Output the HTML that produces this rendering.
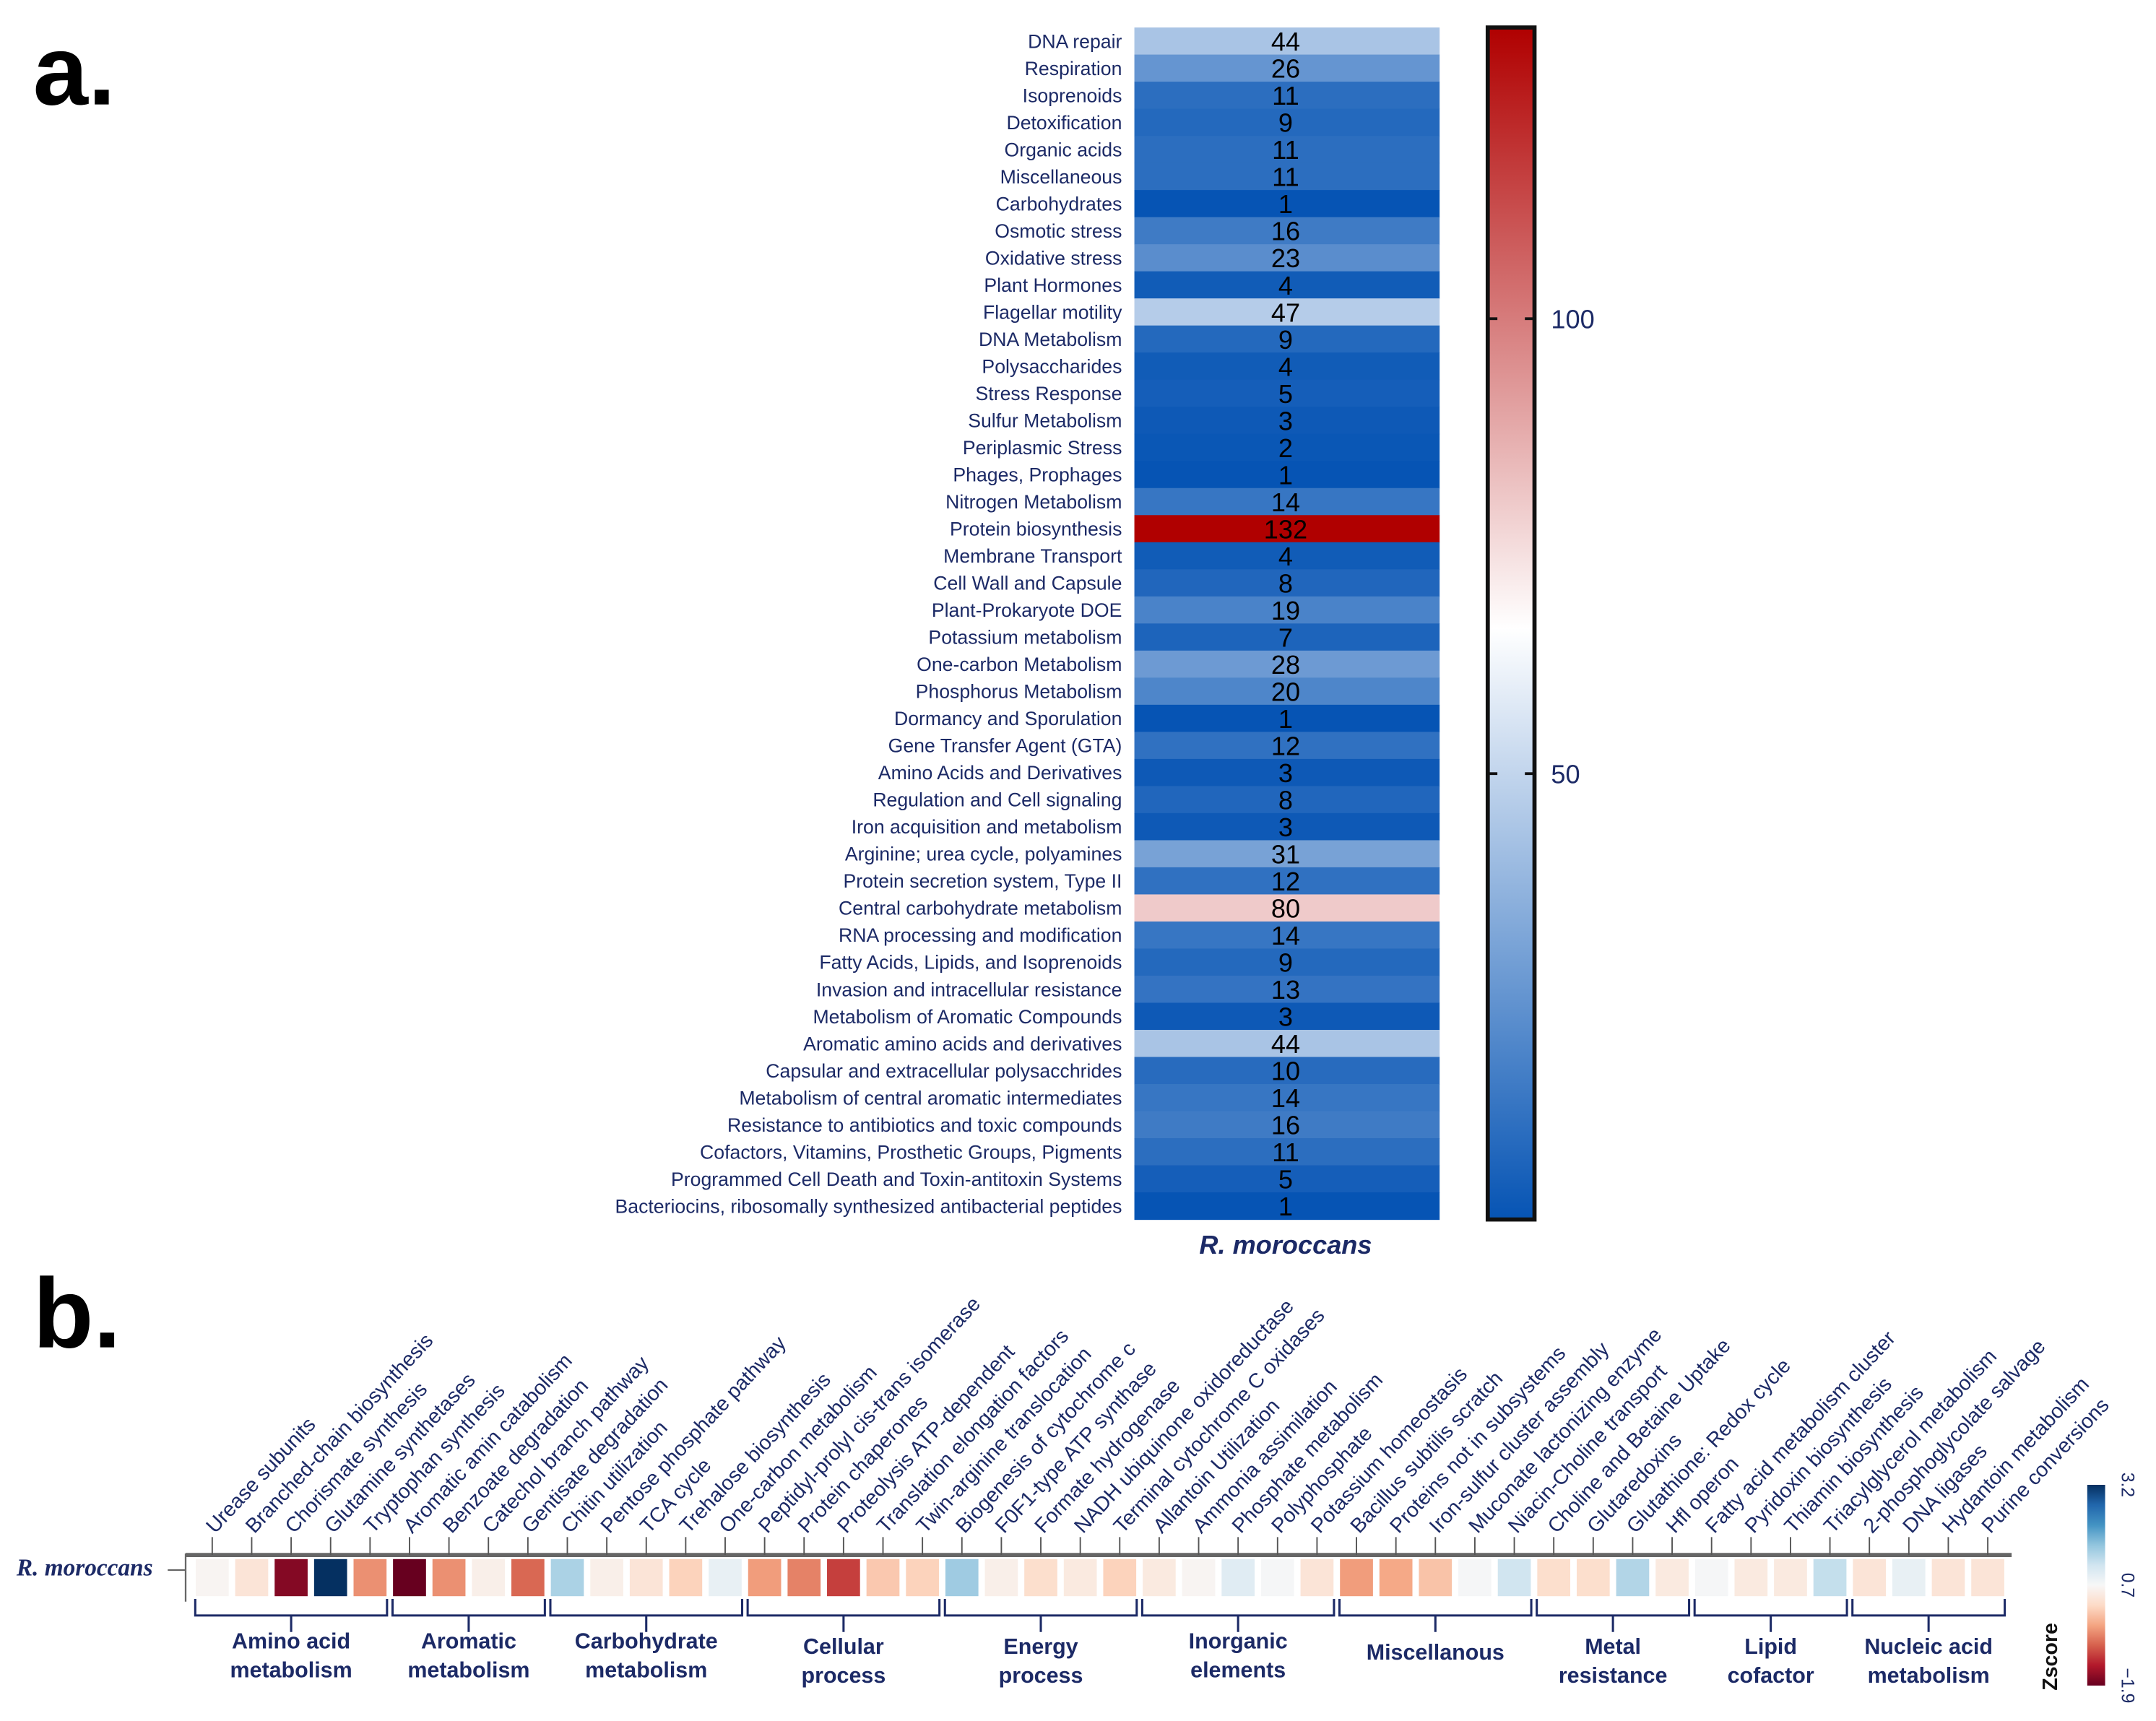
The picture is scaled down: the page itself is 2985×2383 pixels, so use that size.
<!DOCTYPE html>
<html><head><meta charset="utf-8">
<style>
html,body{margin:0;padding:0;background:#fff;width:2985px;height:2374px;overflow:hidden;}
#stage{position:absolute;left:0;top:0;width:1568px;height:1247px;transform-origin:0 0;transform:scale(1.9037);}
svg text{font-family:"Liberation Sans",sans-serif;}
</style></head>
<body>
<div id="stage">
<svg id="fig" width="1568" height="1247" xmlns="http://www.w3.org/2000/svg">
<defs>
<linearGradient id="gA" x1="0" y1="1" x2="0" y2="0">
<stop offset="0" stop-color="#0654b4"/><stop offset="0.496" stop-color="#ffffff"/><stop offset="1" stop-color="#b00000"/>
</linearGradient>
<linearGradient id="gB" x1="0" y1="1" x2="0" y2="0">
<stop offset="0" stop-color="#67001f"/><stop offset="0.1" stop-color="#b2182b"/><stop offset="0.2" stop-color="#d6604d"/><stop offset="0.3" stop-color="#f4a582"/><stop offset="0.4" stop-color="#fddbc7"/><stop offset="0.5" stop-color="#f7f7f7"/><stop offset="0.6" stop-color="#d1e5f0"/><stop offset="0.7" stop-color="#92c5de"/><stop offset="0.8" stop-color="#4393c3"/><stop offset="0.9" stop-color="#2166ac"/><stop offset="1" stop-color="#053061"/>
</linearGradient>
</defs>
<text x="24" y="76" font-size="72" font-weight="bold" fill="#000">a.</text>
<text x="24" y="980" font-size="72" font-weight="bold" fill="#000">b.</text>
<g id="pa"></g>
<g id="pb"></g>
</svg>
</div>
<script>
const catsA = ["DNA repair","Respiration","Isoprenoids","Detoxification","Organic acids","Miscellaneous","Carbohydrates","Osmotic stress","Oxidative stress","Plant Hormones","Flagellar motility","DNA Metabolism","Polysaccharides","Stress Response","Sulfur Metabolism","Periplasmic Stress","Phages, Prophages","Nitrogen Metabolism","Protein biosynthesis","Membrane Transport","Cell Wall and Capsule","Plant-Prokaryote DOE","Potassium metabolism","One-carbon Metabolism","Phosphorus Metabolism","Dormancy and Sporulation","Gene Transfer Agent (GTA)","Amino Acids and Derivatives","Regulation and Cell signaling","Iron acquisition and metabolism","Arginine; urea cycle, polyamines","Protein secretion system, Type II","Central carbohydrate metabolism","RNA processing and modification","Fatty Acids, Lipids, and Isoprenoids","Invasion and intracellular resistance","Metabolism of Aromatic Compounds","Aromatic amino acids and derivatives","Capsular and extracellular polysacchrides","Metabolism of central aromatic intermediates","Resistance to antibiotics and toxic compounds","Cofactors, Vitamins, Prosthetic Groups, Pigments","Programmed Cell Death and Toxin-antitoxin Systems","Bacteriocins, ribosomally synthesized antibacterial peptides"];
const valuesA = [44,26,11,9,11,11,1,16,23,4,47,9,4,5,3,2,1,14,132,4,8,19,7,28,20,1,12,3,8,3,31,12,80,14,9,13,3,44,10,14,16,11,5,1];
const ticksA = [50,100];
const catsB = ["Urease subunits","Branched-chain biosynthesis","Chorismate synthesis","Glutamine synthetases","Tryptophan synthesis","Aromatic amin catabolism","Benzoate degradation","Catechol branch pathway","Gentisate degradation","Chitin utilization","Pentose phosphate pathway","TCA cycle","Trehalose biosynthesis","One-carbon metabolism","Peptidyl-prolyl cis-trans isomerase","Protein chaperones","Proteolysis ATP-dependent","Translation elongation factors","Twin-arginine translocation","Biogenesis of cytochrome c","F0F1-type ATP synthase","Formate hydrogenase","NADH ubiquinone oxidoreductase","Terminal cytochrome C oxidases","Allantoin Utilization","Ammonia assimilation","Phosphate metabolism","Polyphosphate","Potassium homeostasis","Bacillus subtilis scratch","Proteins not in subsystems","Iron-sulfur cluster assembly","Muconate lactonizing enzyme","Niacin-Choline transport","Choline and Betaine Uptake","Glutaredoxins","Glutathione: Redox cycle","Hfl operon","Fatty acid metabolism cluster","Pyridoxin biosynthesis","Thiamin biosynthesis","Triacylglycerol metabolism","2-phosphoglycolate salvage","DNA ligases","Hydantoin metabolism","Purine conversions"];
const zscoresB = [0.65,0.35,-1.7,3.2,-0.5,-1.9,-0.5,0.55,-0.8,1.5,0.55,0.35,0.1,0.9,-0.4,-0.6,-1.1,0.0,0.1,1.6,0.55,0.25,0.45,0.1,0.45,0.65,1.0,0.72,0.35,-0.4,-0.3,-0.05,0.72,1.2,0.25,0.25,1.45,0.45,0.72,0.45,0.45,1.3,0.35,0.9,0.35,0.35];
const groupNames = [["Amino  acid","metabolism"],["Aromatic","metabolism"],["Carbohydrate","metabolism"],["Cellular","process"],["Energy","process"],["Inorganic","elements"],["Miscellanous"],["Metal","resistance"],["Lipid","cofactor"],["Nucleic acid","metabolism"]];
const groupSizes = [5,4,5,5,5,5,5,4,4,4];
const zTicks = [-1.9,0.7,3.2];

const NS="http://www.w3.org/2000/svg";
function mk(tag,attrs,parent,txt){const e=document.createElementNS(NS,tag);for(const k in attrs)e.setAttribute(k,attrs[k]);if(txt!==undefined)e.textContent=txt;parent.appendChild(e);return e;}
function hex(c){return [parseInt(c.slice(1,3),16),parseInt(c.slice(3,5),16),parseInt(c.slice(5,7),16)];}
function mix(a,b,t){const A=hex(a),B=hex(b);return "rgb("+A.map((v,i)=>Math.round(v+(B[i]-v)*t)).join(",")+")";}
function ramp(stops,t){t=Math.max(0,Math.min(1,t));const n=stops.length-1;const i=Math.min(n-1,Math.floor(t*n));return mix(stops[i],stops[i+1],t*n-i);}

// Panel a
const pa=document.getElementById('pa');
const vMin=1,vMax=132,vMid=66.5;
const cellX=825,cellW=222,rowTop=20,rowBot=887;
const rowH=(rowBot-rowTop)/catsA.length;
function colorA(v){return v<vMid?mix("#0654b4","#ffffff",(v-vMin)/(vMid-vMin)):mix("#ffffff","#b00000",(v-vMid)/(vMax-vMid));}
catsA.forEach((c,i)=>{
  const y=rowTop+i*rowH;
  const r=mk('rect',{x:cellX,y:y,width:cellW,height:rowH+0.3,fill:colorA(valuesA[i])},pa);
  
  
  const l=mk('text',{x:816,y:y+rowH/2+5,'font-size':14,'text-anchor':'end',fill:'#1c2a66'},pa,c);
  
  
  const v=mk('text',{x:935,y:y+rowH/2+7,'font-size':19,'text-anchor':'middle',fill:'#000'},pa,valuesA[i]);
  
  
});
const colLab=mk('text',{x:935,y:912,'font-size':19,'font-weight':'bold','font-style':'italic','text-anchor':'middle',fill:'#1c2a66'},pa,'R. moroccans');


const cb=mk('rect',{x:1082,y:20,width:34,height:867,fill:'url(#gA)',stroke:'#111',"stroke-width":3},pa);


function yA(v){return 887-(v-vMin)/(vMax-vMin)*867;}
ticksA.forEach(t=>{
  const y=yA(t);
  mk('line',{x1:1083,x2:1089,y1:y,y2:y,stroke:'#111','stroke-width':2},pa);
  mk('line',{x1:1109,x2:1116,y1:y,y2:y,stroke:'#111','stroke-width':2},pa);
  const tl=mk('text',{x:1128,y:y+7,'font-size':19,fill:'#1c2a66'},pa,t);
  
  
});

// Panel b
const pb=document.getElementById('pb');
const bx0=140,bx1=1460,pitch=(bx1-bx0)/catsB.length,cW=24,cy=1134,cH=27;
function tZ(z){return z<0.7?0.5*(z+1.9)/2.6:0.5+0.5*(z-0.7)/2.5;}
const rdbu=["#67001f","#b2182b","#d6604d","#f4a582","#fddbc7","#f7f7f7","#d1e5f0","#92c5de","#4393c3","#2166ac","#053061"];
mk('line',{x1:135,x2:1463,y1:1131,y2:1131,stroke:'#666','stroke-width':3},pb);
mk('line',{x1:135,x2:135,y1:1130,y2:1165,stroke:'#666','stroke-width':1.2},pb);
mk('line',{x1:122,x2:135,y1:1142,y2:1142,stroke:'#666','stroke-width':1.2},pb);
const rl=mk('text',{x:12,y:1146,'font-size':17.5,'font-style':'italic','font-weight':'bold',fill:'#1c2a66'},pb,'R. moroccans');
rl.setAttribute('style','font-family:"Liberation Serif",serif');


catsB.forEach((c,i)=>{
  const cx=bx0+pitch*(i+0.5);
  mk('line',{x1:cx,x2:cx,y1:1118,y2:1131,stroke:'#555','stroke-width':1},pb);
  const r=mk('rect',{x:cx-cW/2,y:cy,width:cW,height:cH,fill:ramp(rdbu,tZ(zscoresB[i]))},pb);
  
  
  const t=mk('text',{x:cx+2,y:1116,'font-size':15,fill:'#1c2a66',transform:'rotate(-47 '+(cx+2)+' 1116)'},pb,c);
  
  
});
let start=0;
groupSizes.forEach((n,g)=>{
  const xa=bx0+pitch*start+2,xb=bx0+pitch*(start+n)-2,xm=(xa+xb)/2;
  mk('path',{d:`M${xa} 1163 V1175 H${xb} V1163 M${xm} 1175 V1187`,fill:'none',stroke:'#1c2a66','stroke-width':1.6},pb);
  const lines=groupNames[g];
  const y0=lines.length===1?1207:(g<3||g===5?1199:1203);
  lines.forEach((s,k)=>{
    const gt=mk('text',{x:xm,y:y0+k*21,'font-size':16,'font-weight':'bold','text-anchor':'middle',fill:'#1c2a66'},pb,s);
    
    
  });
  start+=n;
});
const cb2=mk('rect',{x:1518,y:1080,width:13,height:146,fill:'url(#gB)'},pb);


zTicks.forEach(z=>{
  const y=1226-tZ(z)*146;
  const tx=1543;
  const tt=mk('text',{x:tx,y:y,'font-size':13,fill:'#1c2a66','text-anchor':'middle',transform:'rotate(90 '+tx+' '+y+')'},pb,z===-1.9?'\u22121.9':z);
  
  
});
const zt=mk('text',{x:1496,y:1205,'font-size':15,'font-weight':'bold',fill:'#111','text-anchor':'middle',transform:'rotate(-90 1496 1205)'},pb,'Zscore');


</script>
</body></html>
